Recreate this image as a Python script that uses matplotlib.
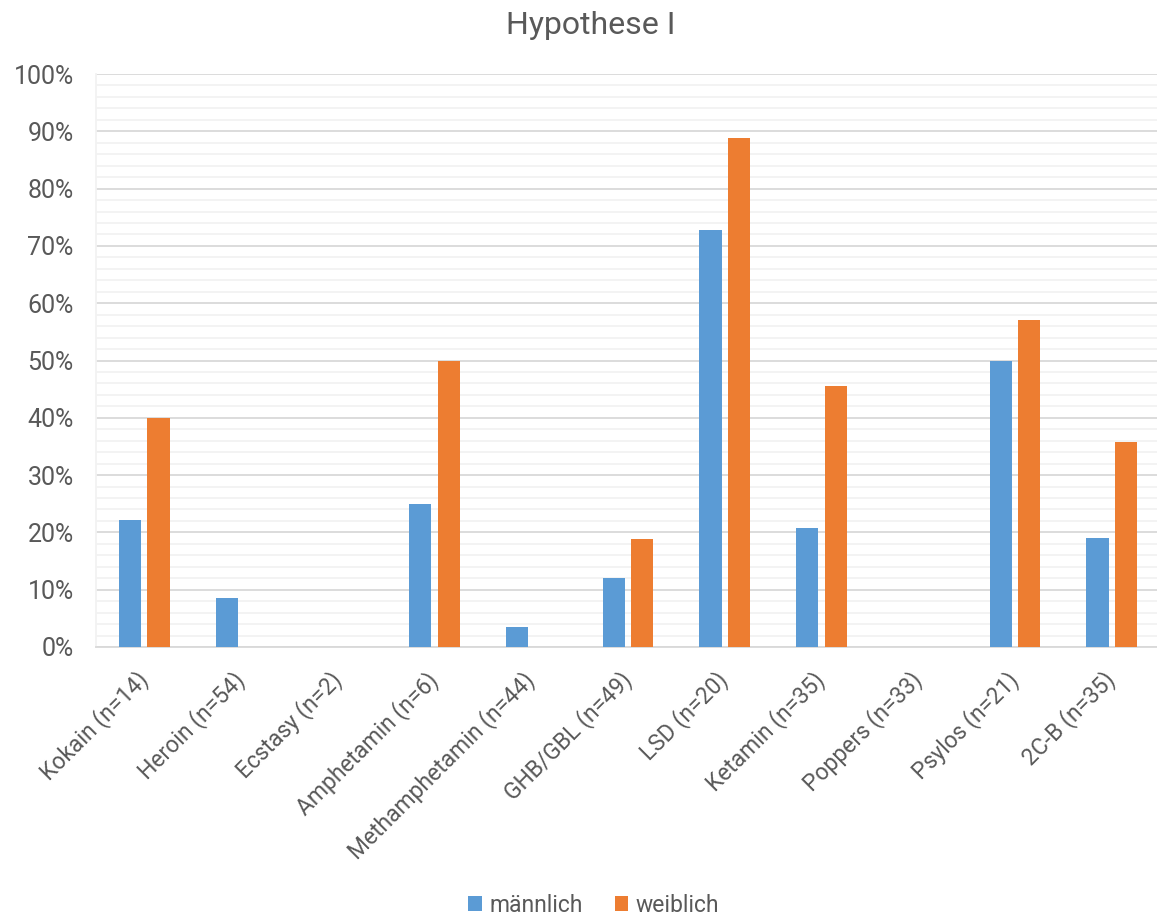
import matplotlib
matplotlib.use("Agg")
import matplotlib.pyplot as plt
import numpy as np
from matplotlib.ticker import MultipleLocator, PercentFormatter

categories = ["Kokain (n=14)", "Heroin (n=54)", "Ecstasy (n=2)", "Amphetamin (n=6)",
              "Methamphetamin (n=44)", "GHB/GBL (n=49)", "LSD (n=20)", "Ketamin (n=35)",
              "Poppers (n=33)", "Psylos (n=21)", "2C-B (n=35)"]
maennlich = [22.2, 8.5, 0, 25.0, 3.5, 12.0, 72.7, 20.8, 0, 50.0, 19.0]
weiblich = [40.0, 0, 0, 50.0, 0, 18.8, 88.9, 45.5, 0, 57.1, 35.7]
series_names = ["männlich", "weiblich"]
colors = ["#5B9BD5", "#ED7D31"]

plt.rcParams['font.family'] = ['Roboto', 'DejaVu Sans']
text_color = "#595959"

fig = plt.figure(figsize=(11.57, 9.18), dpi=100)
ax = fig.add_axes([96/1157, 1 - 647/918, (1160-96)/1157, (647-74)/918])

x = np.arange(len(categories))
w = 0.23
off = 0.147
ax.bar(x - off, maennlich, w, color=colors[0], label=series_names[0], zorder=3)
ax.bar(x + off, weiblich, w, color=colors[1], label=series_names[1], zorder=3)

ax.set_xlim(-0.5, len(categories) - 0.5)
ax.set_ylim(0, 100)
ax.yaxis.set_major_locator(MultipleLocator(10))
ax.yaxis.set_minor_locator(MultipleLocator(2))
ax.yaxis.set_major_formatter(PercentFormatter(decimals=0))
ax.grid(axis='y', which='major', color='#D9D9D9', linewidth=1.3, zorder=0)
ax.grid(axis='y', which='minor', color='#F2F2F2', linewidth=1.3, zorder=0)
ax.set_axisbelow(True)

for s in ['top', 'right']:
    ax.spines[s].set_visible(False)
ax.spines['left'].set_color('#F2F2F2')
ax.spines['left'].set_linewidth(1.3)
ax.spines['bottom'].set_color('#D9D9D9')
ax.spines['bottom'].set_linewidth(1.3)

ax.tick_params(axis='both', which='both', length=0, colors=text_color)
ax.tick_params(axis='y', pad=16, labelsize=18)
ax.set_xticks(x)
ax.set_xticklabels(categories, rotation=45, ha='right', va='center',
                   rotation_mode='anchor', fontsize=16.5)
ax.tick_params(axis='x', pad=21)

fig.text(591/1157, 1 - 25/918, "Hypothese I", ha='center', va='center', fontsize=23, color=text_color)

leg = fig.legend(loc='center', bbox_to_anchor=(0.513, 1 - 905/918), ncol=2, frameon=False,
                 prop={'size': 16.5}, handlelength=0.6, handleheight=0.6,
                 handletextpad=0.3, columnspacing=1.4)
for t in leg.get_texts():
    t.set_color(text_color)

fig.savefig("out.png", dpi=100)
